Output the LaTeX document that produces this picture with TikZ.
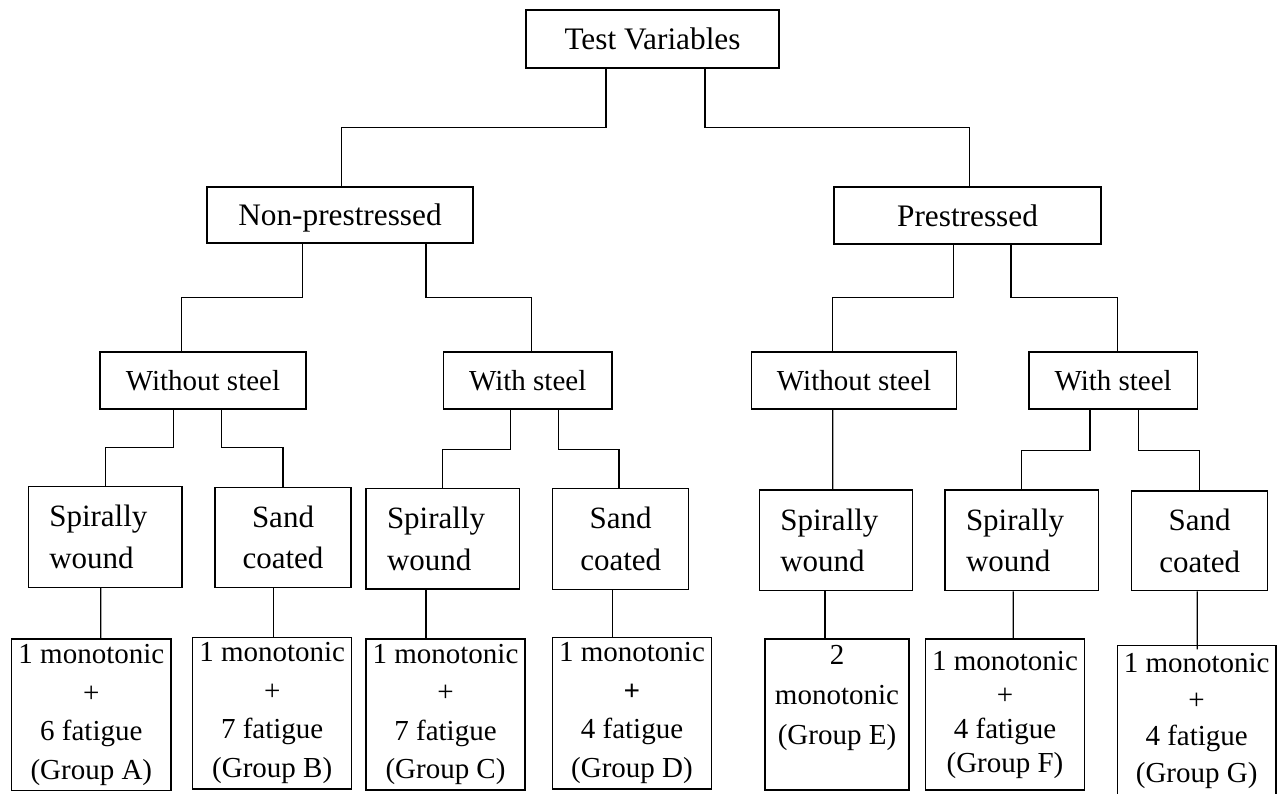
\documentclass[tikz,border=0pt]{standalone}
\usepackage{fontspec}
\setmainfont{Liberation Serif}
\begin{document}
\begin{tikzpicture}[x=1pt,y=-1pt,
  box/.style={draw, line width=1.4pt, rectangle, inner sep=2pt, align=center},
  conn/.style={line width=1.3pt},
  big/.style={font=\fontsize{31.3}{38}\selectfont, text depth=0pt},
  mid/.style={font=\fontsize{29}{36}\selectfont, text depth=0pt},
  leaf/.style={font=\fontsize{31}{41.5}\selectfont},
  grp/.style={font=\fontsize{29}{38.5}\selectfont},
  spiral/.style={align=left, inner xsep=21pt, text width=#1},
  dims/.style 2 args={minimum width=#1pt, minimum height=#2pt},
]
\useasboundingbox (0,0) rectangle (1282,793);
\fill[white] (0,0) rectangle (1282,793);
\clip (0,0) rectangle (1282,793);

% level 1-2
\node[box,big,dims={253}{58}] (T) at (652.5,39) {Test Variables};
\node[box,big,dims={266}{56}] (NP) at (340,215) {Non-prestressed};
\node[box,big,dims={267}{57}] (P) at (967.5,215.5) {Prestressed};

% level 3
\node[box,mid,dims={206}{57}] (WS1) at (203,380.5) {Without steel};
\node[box,mid,dims={168.5}{57}] (WT1) at (527.75,380.5) {With steel};
\node[box,mid,dims={205.2}{57}] (WS2) at (854.1,380.5) {Without steel};
\node[box,mid,dims={168.3}{57}] (WT2) at (1113.15,380.5) {With steel};

% level 4
\node[box,leaf,spiral=111.7pt,dims={153.7}{100.6}] (A) at (105.15,537) {Spirally\\wound};
\node[box,leaf,dims={136}{100.4}] (B) at (283,537.5) {Sand\\coated};
\node[box,leaf,spiral=111.3pt,dims={153.3}{100.7}] (C) at (442.65,538.65) {Spirally\\wound};
\node[box,leaf,dims={136}{101}] (D) at (620.7,538.8) {Sand\\coated};
\node[box,leaf,spiral=111.4pt,dims={153.4}{100.7}] (E) at (836,540.35) {Spirally\\wound};
\node[box,leaf,spiral=111.3pt,dims={153.3}{100.7}] (F) at (1021.65,540.35) {Spirally\\wound};
\node[box,leaf,dims={136}{99.7}] (G) at (1199.7,540.85) {Sand\\coated};

% level 5
\node[box,grp,dims={159.3}{151.7}] (gA) at (91.35,714.85) {1 monotonic\\+\\6 fatigue\\(Group A)};
\node[box,grp,dims={159}{151.7}] (gB) at (272.2,713.15) {1 monotonic\\+\\7 fatigue\\(Group B)};
\node[box,grp,dims={159}{151}] (gC) at (445.5,714.5) {1 monotonic\\+\\7 fatigue\\(Group C)};
\node[box,grp,dims={159.4}{151.7}] (gD) at (632,713.15) {1 monotonic\\\textbf{+}\\4 fatigue\\(Group D)};
\node[box,grp,font=\fontsize{29}{40}\selectfont,dims={144}{151}] (gE) at (837,714.5) {2\\monotonic\\(Group E)\\\mbox{}};
\node[box,grp,font=\fontsize{29}{34}\selectfont,dims={158.6}{151}] (gF) at (1005,714.5) {1 monotonic\\+\\4 fatigue\\(Group F)};
\node[box,grp,font=\fontsize{29}{36.7}\selectfont,dims={158.7}{150.3}] (gG) at (1196.65,720.85) {1 monotonic\\+\\4 fatigue\\(Group G)};

% connectors
\draw[conn] ([xshift=-46.5pt]T.south) -- ++(0,58.7) -| ([xshift=1.7pt]NP.north);
\draw[conn] ([xshift=52.5pt]T.south) -- ++(0,58.7) -| ([xshift=1.8pt]P.north);
\draw[conn] ([xshift=-37.3pt]NP.south) -- ++(0,53.7) -| ([xshift=-21.3pt]WS1.north);
\draw[conn] ([xshift=86pt]NP.south) -- ++(0,53.7) -| ([xshift=3.95pt]WT1.north);
\draw[conn] ([xshift=-13.8pt]P.south) -- ++(0,52.7) -| ([xshift=-21.8pt]WS2.north);
\draw[conn] ([xshift=43.5pt]P.south) -- ++(0,52.7) -| ([xshift=4.55pt]WT2.north);
\draw[conn] ([xshift=-29.7pt]WS1.south) -- ++(0,37.7) -| (A.north);
\draw[conn] ([xshift=18.3pt]WS1.south) -- ++(0,37.7) -| (B.north);
\draw[conn] ([xshift=-17pt]WT1.south) -- ++(0,40) -| (C.north);
\draw[conn] ([xshift=30.5pt]WT1.south) -- ++(0,40) -| ([xshift=-1.7pt]D.north);
\draw[conn] ([xshift=-21.4pt]WS2.south) -- ([xshift=-3.3pt]E.north);
\draw[conn] ([xshift=-23.15pt]WT2.south) -- ++(0,41) -| (F.north);
\draw[conn] ([xshift=25.15pt]WT2.south) -- ++(0,41) -| (G.north);
\draw[conn] ([xshift=-4.45pt]A.south) -- ([xshift=9.35pt]gA.north);
\draw[conn] ([xshift=-9.7pt]B.south) -- ([xshift=1.1pt]gB.north);
\draw[conn] ([xshift=-16.65pt]C.south) -- ([xshift=-19.5pt]gC.north);
\draw[conn] ([xshift=-8pt]D.south) -- ([xshift=-19.3pt]gD.north);
\draw[conn] ([xshift=-11pt]E.south) -- ([xshift=-12pt]gE.north);
\draw[conn] ([xshift=-8.35pt]F.south) -- ([xshift=8.3pt]gF.north);
\draw[conn] ([xshift=-2.4pt]G.south) -- ([xshift=0.65pt,yshift=-4.3pt]gG.north);
\end{tikzpicture}
\end{document}
